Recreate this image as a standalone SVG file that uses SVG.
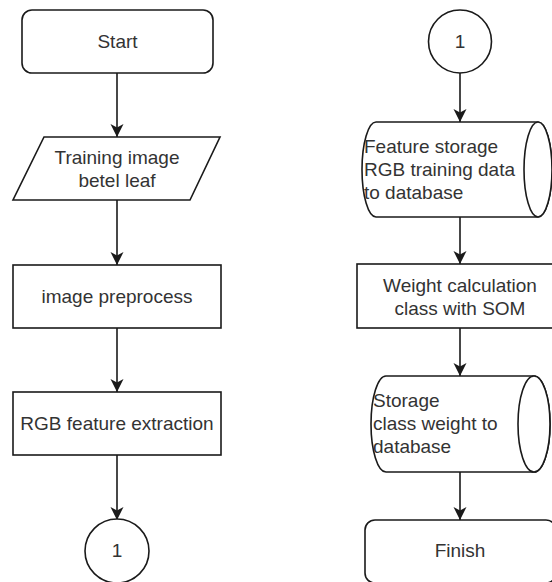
<svg xmlns="http://www.w3.org/2000/svg" width="552" height="582" viewBox="0 0 552 582">
  <style>
    .shape { fill: #ffffff; stroke: #1a1a1a; stroke-width: 1.6; }
    .edge { fill: none; stroke: #1a1a1a; stroke-width: 1.6; }
    .lbl { font-family: "Liberation Sans", Arial, sans-serif; font-size: 19px; fill: #333333; }
    .c { text-anchor: middle; }
  </style>
  <defs>
    <marker id="arrow" markerUnits="userSpaceOnUse" markerWidth="14" markerHeight="14" viewBox="0 0 14 14" refX="13" refY="7" orient="auto">
      <path d="M0,0.5 L13,7 L0,13.5 L3.5,7 Z" fill="#1a1a1a"/>
    </marker>
  </defs>
  <rect width="552" height="582" fill="#ffffff"/>

  <g id="connectors">
    <line class="edge" x1="117" y1="73" x2="117" y2="137" marker-end="url(#arrow)"/>
    <line class="edge" x1="117" y1="200" x2="117" y2="265" marker-end="url(#arrow)"/>
    <line class="edge" x1="117" y1="328" x2="117" y2="392" marker-end="url(#arrow)"/>
    <line class="edge" x1="117" y1="455" x2="117" y2="520" marker-end="url(#arrow)"/>
    <line class="edge" x1="460" y1="73" x2="460" y2="122" marker-end="url(#arrow)"/>
    <line class="edge" x1="460" y1="217" x2="460" y2="264" marker-end="url(#arrow)"/>
    <line class="edge" x1="460" y1="328" x2="460" y2="376" marker-end="url(#arrow)"/>
    <line class="edge" x1="460" y1="472" x2="460" y2="520" marker-end="url(#arrow)"/>
  </g>

  <g id="start">
    <rect class="shape" x="22" y="10" width="191" height="63" rx="10" ry="10"/>
    <text class="lbl c" x="117.5" y="48">Start</text>
  </g>

  <g id="training-image">
    <polygon class="shape" points="44,137 220,137 190,200 13,200"/>
    <text class="lbl c" x="117" y="164">Training image</text>
    <text class="lbl c" x="117" y="187">betel leaf</text>
  </g>

  <g id="image-preprocess">
    <rect class="shape" x="13" y="265" width="208" height="63"/>
    <text class="lbl c" x="117" y="303">image preprocess</text>
  </g>

  <g id="rgb-feature-extraction">
    <rect class="shape" x="13" y="392" width="208" height="63"/>
    <text class="lbl c" x="117" y="430">RGB feature extraction</text>
  </g>

  <g id="connector-1-left">
    <circle class="shape" cx="117" cy="551" r="32"/>
    <text class="lbl c" x="117" y="557">1</text>
  </g>

  <g id="connector-1-right">
    <circle class="shape" cx="460" cy="41.5" r="31.5"/>
    <text class="lbl c" x="460" y="48">1</text>
  </g>

  <g id="feature-storage">
    <path class="shape" d="M376,122 L538,122 A14,47.5 0 0 1 538,217 L376,217 A14,47.5 0 0 1 376,122 Z"/>
    <ellipse class="shape" cx="538" cy="169.5" rx="14" ry="47.5"/>
    <text class="lbl" x="364" y="153">Feature storage</text>
    <text class="lbl" x="364" y="176">RGB training data</text>
    <text class="lbl" x="364" y="199">to database</text>
  </g>

  <g id="weight-calculation">
    <rect class="shape" x="357" y="264" width="208" height="64"/>
    <text class="lbl c" x="460" y="292">Weight calculation</text>
    <text class="lbl c" x="460" y="315">class with SOM</text>
  </g>

  <g id="storage-class-weight">
    <path class="shape" d="M386,376 L534,376 A16,48 0 0 1 534,472 L386,472 A15,48 0 0 1 386,376 Z"/>
    <ellipse class="shape" cx="534" cy="424" rx="16" ry="48"/>
    <text class="lbl" x="373" y="407">Storage</text>
    <text class="lbl" x="373" y="430">class weight to</text>
    <text class="lbl" x="373" y="453">database</text>
  </g>

  <g id="finish">
    <rect class="shape" x="365" y="520" width="191" height="63" rx="10" ry="10"/>
    <text class="lbl c" x="460" y="557">Finish</text>
  </g>
</svg>
